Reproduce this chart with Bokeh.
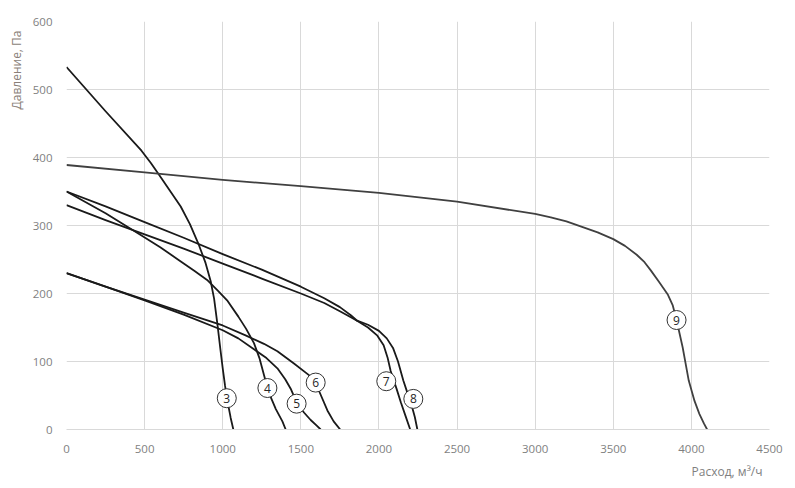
from bokeh.plotting import figure
from bokeh.models import Range1d, FixedTicker, Title, ColumnDataSource
from bokeh.core.properties import value
from bokeh.embed import file_html
from bokeh.resources import INLINE

# ---- data (flow m3/h, pressure Pa) ----
c3_x = [0, 250, 480, 540, 600, 660, 731, 790, 848, 890, 923, 945, 966, 985, 1000, 1015, 1030, 1051, 1068]
c3_y = [533, 468, 410, 392, 372, 352, 328, 302, 271, 245, 218, 192, 155, 118, 90, 64, 42, 17, 0]

c4_x = [0, 250, 475, 600, 720, 820, 900, 970, 1028, 1100, 1150, 1200, 1235, 1264, 1286, 1310, 1340, 1382, 1403]
c4_y = [350, 318, 286, 268, 249, 233, 220, 204, 190, 166, 148, 127, 105, 80, 62, 46, 30, 12, 0]

c5_x = [0, 250, 500, 750, 1000, 1100, 1200, 1280, 1350, 1400, 1435, 1473, 1520, 1563, 1600, 1627]
c5_y = [230, 210, 190, 169, 146, 134, 118, 105, 90, 74, 60, 40, 25, 14, 6, 0]

c6_x = [0, 250, 500, 750, 1000, 1150, 1264, 1350, 1456, 1552, 1595, 1616, 1670, 1710, 1752]
c6_y = [230, 210, 191, 172, 153, 138, 126, 115, 97, 80, 67, 57, 28, 12, 0]

c7_x = [0, 250, 500, 750, 1000, 1250, 1500, 1650, 1750, 1820, 1860, 1930, 1990, 2030, 2055, 2075, 2114, 2140, 2170, 2200]
c7_y = [350, 328, 305, 282, 258, 235, 210, 193, 180, 168, 160, 150, 138, 124, 106, 86, 59, 40, 20, 0]

c8_x = [0, 250, 500, 750, 1000, 1250, 1500, 1650, 1750, 1820, 1860, 1930, 2000, 2050, 2090, 2122, 2156, 2185, 2210, 2230, 2246]
c8_y = [330, 308, 287, 266, 244, 222, 200, 186, 174, 165, 160, 154, 145, 134, 120, 100, 72, 52, 35, 18, 0]

c9_x = [0, 500, 1000, 1500, 2000, 2500, 3000, 3100, 3200, 3300, 3400, 3500, 3575, 3650, 3700, 3740,
        3790, 3850, 3880, 3905, 3944, 3983, 4020, 4051, 4080, 4101]
c9_y = [389, 378, 367, 358, 348, 335, 317, 312, 306, 298, 290, 280, 270, 257, 246, 234,
        218, 198, 183, 161, 121, 72, 42, 23, 9, 0]

curve_names = ["3", "4", "5", "6", "7", "8", "9"]
label_x = [1026, 1286, 1473, 1595, 2047, 2220, 3905]
label_y = [46, 61, 38, 69, 71, 45, 161]

x_ticks = [0, 500, 1000, 1500, 2000, 2500, 3000, 3500, 4000, 4500]
y_ticks = [0, 100, 200, 300, 400, 500, 600]

x_title = "Расход, м³/ч"
y_title = "Давление, Па"

# ---- figure ----
p = figure(width=788, height=484, output_backend="svg", toolbar_location=None,
           x_range=Range1d(0, 4500), y_range=Range1d(0, 600))
p.min_border_left = 64
p.min_border_right = 19
p.min_border_top = 21
p.min_border_bottom = 51
p.outline_line_color = None
p.background_fill_color = "white"
p.border_fill_color = "white"

FONT = "Open Sans"
TICK_COLOR = "#7f7f7f"

p.xaxis.ticker = FixedTicker(ticks=x_ticks)
p.yaxis.ticker = FixedTicker(ticks=y_ticks)
for ax in (p.xaxis, p.yaxis):
    ax.major_tick_line_color = None
    ax.minor_tick_line_color = None
    ax.major_label_text_font = FONT
    ax.major_label_text_font_size = "11.5px"
    ax.major_label_text_color = TICK_COLOR
p.xaxis.axis_line_color = "#d9d9d9"
p.yaxis.axis_line_color = None
p.xaxis.major_label_standoff = 9
p.yaxis.major_label_standoff = 8

p.xgrid.grid_line_color = "#d9d9d9"
p.ygrid.grid_line_color = "#d9d9d9"

# ---- curves ----
curves = [(c3_x, c3_y), (c4_x, c4_y), (c5_x, c5_y), (c6_x, c6_y), (c7_x, c7_y), (c8_x, c8_y)]
for cx, cy in curves:
    p.line(cx, cy, line_color="#1a1a1a", line_width=1.8, line_join="round")
p.line(c9_x, c9_y, line_color="#404040", line_width=1.8, line_join="round")

# ---- curve labels ----
src = ColumnDataSource(dict(x=label_x, y=label_y, t=curve_names))
p.scatter("x", "y", source=src, marker="circle", size=19,
          fill_color="white", line_color="#333333", line_width=1)
p.text("x", "y", text="t", source=src, text_align="center", text_baseline="middle",
       text_font=value(FONT), text_font_size="12px", text_color="#262626")

# ---- axis titles ----
p.add_layout(Title(text=x_title, align="right", offset=7, text_font=FONT, text_font_size="12px",
                   text_font_style="normal", text_color="#7f7f7f"), "below")
p.add_layout(Title(text=y_title, align="right", offset=9, text_font=FONT, text_font_size="12px",
                   text_font_style="normal", text_color="#8a7f78"), "left")

open("out.html", "w").write(file_html(p, INLINE))
